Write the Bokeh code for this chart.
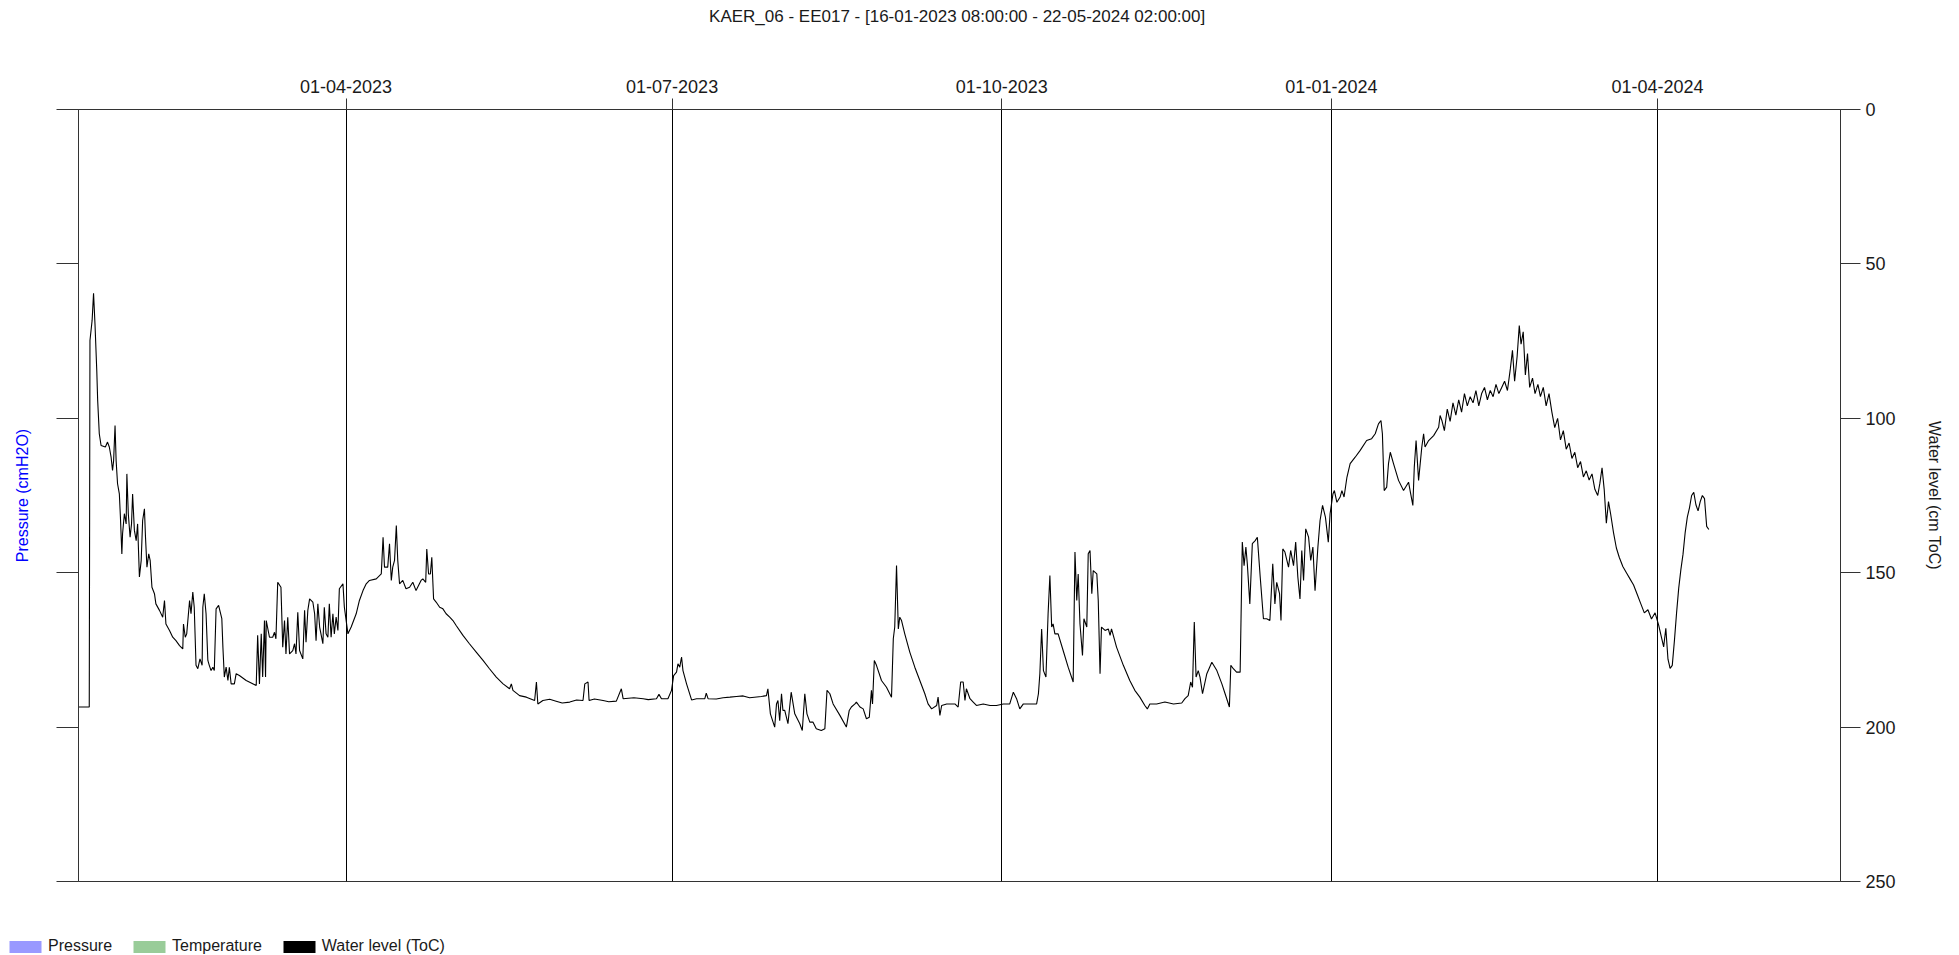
from datetime import datetime, timedelta
import pandas as pd
from bokeh.plotting import figure
from bokeh.layouts import column
from bokeh.models import (Range1d, LinearAxis, FixedTicker, DatetimeTickFormatter,
                          Legend, LegendItem, ColumnDataSource, CustomJSTickFormatter)
from bokeh.embed import file_html
from bokeh.resources import INLINE

# ---------------- data ----------------
title_text = "KAER_06 - EE017 -  [16-01-2023 08:00:00 - 22-05-2024 02:00:00]"
start_time = "2023-01-16 08:00:00"
end_time = "2024-05-22 02:00:00"
tick_labels = ["01-04-2023", "01-07-2023", "01-10-2023", "01-01-2024", "01-04-2024"]
y_ticks = [0, 50, 100, 150, 200, 250]
legend_labels = ["Pressure", "Temperature", "Water level (ToC)"]
legend_colors = ["#9999ff", "#99cc99", "#000000"]

# days elapsed since start_time
wl_days = [
    0.0, 3.0, 3.2, 3.8, 4.2, 4.6, 5.1, 5.35, 5.8, 6.3, 7.5, 8.1, 8.6, 9.1, 9.5, 9.8, 10.2, 10.5,
    10.9, 11.4, 11.7, 12.1, 12.3, 12.8, 13.3, 13.5, 13.9, 14.4, 14.8, 15.1, 15.6, 16.1, 16.5, 17.0,
    17.5, 17.9, 18.4, 18.7, 19.1, 19.6, 20.0, 20.5, 21.2, 21.6, 22.6, 23.5, 24.0, 24.4, 25.4, 26.3,
    27.2, 28.2, 29.1, 29.3, 29.8, 30.2, 31.0, 31.4, 31.9, 32.3, 32.8, 33.3, 33.9, 34.5, 34.7, 35.1,
    35.6, 36.1, 36.5, 37.0, 37.5, 37.9, 38.4, 39.1, 40.0, 40.3, 40.7, 41.2, 41.7, 42.1, 42.6, 43.5,
    44.0, 44.9, 46.8, 49.6, 50.0, 50.5, 51.0, 51.4, 51.9, 52.2, 52.4, 53.3, 54.2, 54.7, 55.1, 55.6,
    56.5, 57.0, 57.5, 57.9, 58.4, 58.9, 59.8, 60.3, 60.7, 61.2, 61.7, 62.6, 63.1, 63.5, 64.0, 64.5,
    65.4, 65.9, 66.3, 66.8, 67.3, 68.2, 68.6, 69.1, 69.6, 70.0, 70.5, 71.0, 71.4, 71.9, 72.4, 72.8,
    73.8, 74.2, 75.2, 76.1, 77.5, 78.4, 79.4, 80.3, 81.2, 83.1, 84.5, 85.0, 85.4, 86.3, 86.8, 87.3,
    87.7, 88.2, 88.7, 89.1, 89.6, 90.5, 91.4, 92.4, 93.3, 94.2, 95.6,
    96.1, 96.9, 97.2, 97.7, 98.2, 98.6, 99.1, 99.8, 100.8, 101.7, 102.6, 103.6, 104.5, 105.4,
    107.3, 109.1, 111.0, 112.9, 114.7, 116.6, 118.5, 120.3, 120.8, 121.25, 123.1, 125.0, 127.3,
    127.8, 128.2, 129.6, 131.5, 133.3, 135.0, 137.1, 139.0, 140.8, 141.3, 142.2, 142.5, 144.0,
    146.4, 148.0, 150.1, 151.5, 152.0, 155.0, 157.6, 159.0, 161.3, 162.0, 162.7, 164.5, 165.5,
    166.1, 166.9, 167.3, 167.8, 168.3, 168.7, 169.7, 171.1, 172.5, 174.8, 175.2, 175.7, 178.0,
    179.9, 181.8, 183.6, 185.5, 187.3, 190.6,
    192.0, 192.4, 193.1, 194.3, 194.8, 195.2, 195.7, 196.2, 196.6, 197.1, 198.0, 198.9, 199.9,
    201.3, 202.0, 202.7, 203.3, 204.1, 205.0, 205.9, 207.3, 208.3, 208.9, 209.7, 210.6, 212.5,
    214.3, 215.1, 215.7, 216.7, 217.1, 218.1, 219.0, 219.9, 220.7, 221.3, 221.6, 222.1, 222.7,
    224.1, 225.5, 226.9, 227.4, 227.8, 228.3, 228.8, 229.2, 229.7, 230.6, 232.0, 233.4, 234.8,
    236.2, 237.1, 238.1, 239.5, 239.9, 240.4, 240.9, 242.3, 244.6, 245.5, 246.2, 246.9, 247.4,
    247.8, 248.8, 249.7, 250.6, 252.5, 254.4, 256.2, 258.1, 259.9, 260.9, 261.8, 262.7, 263.7,
    267.4, 267.9, 268.3, 268.8, 269.3, 270.0, 270.6, 271.1, 271.6, 272.0, 272.5, 273.4, 274.8,
    276.2, 277.6, 278.1, 278.6, 279.0, 279.5, 280.2, 280.6, 281.4, 281.8, 282.3, 282.8, 283.2,
    284.2, 284.6, 285.1,
    285.5, 286.5, 287.4, 287.9, 288.3, 289.7, 291.6, 293.4, 294.8, 296.2, 297.6, 298.3, 299.0,
    300.9, 303.2, 305.6, 307.9, 308.8, 309.7, 310.4, 310.9, 311.4, 311.9, 312.5, 313.0, 313.7,
    314.9, 316.3, 317.7, 319.1, 320.0, 321.2, 321.6, 322.3, 323.2, 324.2, 324.8, 325.3, 325.8,
    326.2, 326.9, 327.6, 328.4, 329.0, 329.8, 330.7, 331.6, 332.5, 333.3, 333.9, 334.4, 335.2,
    335.6, 336.1, 336.7, 337.7, 338.3, 339.1, 339.7, 340.3, 340.9, 341.4, 341.9, 342.5, 343.3,
    343.9, 344.5, 345.1, 345.9, 346.5, 347.2, 348.0, 348.8, 349.3, 350.1, 350.5, 351.2, 352.1,
    352.6, 353.2, 354.0, 354.9, 356.3, 357.7, 359.5, 360.9, 361.9, 362.8, 363.5, 363.9, 364.4,
    365.1, 365.6, 366.1, 367.0, 368.4, 369.8, 371.2, 371.8, 372.4, 372.8, 373.3, 374.0, 374.9,
    375.4, 375.8, 376.8, 378.2, 379.6, 380.0, 380.5,
    381.2, 382.0, 382.8, 383.6, 384.4, 385.2, 386.0, 386.8, 387.6, 388.4, 389.2, 390.0, 390.8,
    391.6, 392.4, 393.2, 394.0, 394.8, 395.6, 396.4, 397.2, 398.0, 398.8, 399.6, 400.2, 400.8,
    401.5, 402.1, 402.6, 403.2, 403.8, 404.4, 405.0, 405.8, 406.5, 407.3, 408.0, 408.8, 409.6,
    410.4, 411.2, 412.0, 412.8, 413.6, 414.4, 415.2, 416.0, 416.8, 417.6, 418.4, 419.2, 420.0,
    420.8, 421.6, 422.4, 423.2, 424.0, 424.6, 425.2, 425.8, 426.4, 427.0, 427.6, 428.4, 429.2,
    430.0, 431.0, 432.0, 433.0, 434.0, 435.0, 436.0, 437.0, 438.0, 439.0, 440.0, 441.0, 441.8,
    442.4, 443.0, 443.6, 444.2, 444.8, 445.4, 446.0, 446.6, 447.2, 447.8, 448.4, 449.0, 449.6,
    450.2, 450.8, 451.4, 452.0, 452.6, 453.2, 453.8, 454.4, 455.0,
]

# water level in cm below top of casing
wl_cm = [
    193.5, 193.5, 74.8, 68.3, 59.5, 69.4, 84.5, 94.2, 105.0, 108.8, 109.3, 107.7, 109.3, 112.6, 116.9, 113.7, 102.3, 113.7,
    121.2, 124.5, 132.0, 143.9, 137.4, 130.9, 134.2, 118.0, 130.9, 138.5, 134.2, 124.5, 136.3, 139.6, 134.2, 151.4,
    146.0, 133.1, 129.3, 138.5, 148.2, 143.9, 146.0, 154.7, 156.8, 160.1, 162.2, 164.4, 159.0, 166.6, 168.7, 170.9,
    172.0, 173.6, 174.7, 166.6, 170.9, 169.8, 159.0, 163.3, 156.3, 161.2, 180.0, 181.1, 177.9, 180.0, 161.2, 156.8,
    163.3, 178.4, 180.0, 181.7, 180.6, 181.7, 161.7, 160.6, 164.9, 174.1, 183.8, 180.6, 184.9, 180.6, 186.0, 186.0,
    182.7, 183.3, 184.9, 186.5, 170.3, 186.0, 169.8, 183.8, 165.5, 183.8, 165.5, 170.9, 170.9, 169.3, 171.4, 153.1,
    154.7, 174.1, 165.5, 176.3, 164.4, 176.3, 175.2, 173.0, 176.3, 162.8, 175.2, 177.9, 162.2, 172.5, 162.2, 158.5,
    159.5, 163.3, 172.0, 160.1, 167.6, 173.0, 161.2, 169.8, 170.9, 160.1, 170.9, 163.3, 169.8, 164.4, 168.7, 155.2,
    153.6, 161.2, 169.8, 167.6, 163.3, 159.0, 155.8, 153.6, 152.5, 152.0, 150.4, 138.5, 148.2, 148.2, 140.6, 152.5,
    148.2, 146.0, 134.7, 146.0, 153.6, 152.5, 155.2, 154.7, 153.1, 155.8, 152.5,
    152.0, 153.1, 142.3, 150.4, 150.4, 145.0, 158.5, 159.5, 161.2, 161.7, 163.3, 164.4, 165.5, 167.1,
    170.3, 173.0, 175.7, 178.4, 181.1, 183.8, 186.0, 187.6, 186.0, 188.1, 189.8, 190.3, 191.4,
    185.4, 192.5, 191.4, 191.0, 191.6, 192.2, 191.9, 191.2, 191.4, 186.0, 185.4, 191.4, 190.9,
    191.4, 191.8, 191.6, 187.6, 190.8, 190.5, 190.8, 191.1, 190.8, 189.4, 190.8, 190.8, 188.1,
    183.3, 182.2, 179.5, 180.6, 177.3, 181.7, 186.0, 191.2, 190.8, 190.8, 189.0, 190.8, 190.9,
    190.5, 190.3, 190.1, 189.9, 190.5, 190.1,
    189.8, 187.6, 195.7, 200.0, 192.5, 191.4, 197.9, 189.2, 194.6, 194.6, 198.9, 188.7, 195.7,
    198.9, 201.1, 189.2, 195.7, 198.4, 198.4, 200.5, 201.1, 200.5, 188.1, 189.2, 192.5, 196.2,
    200.0, 194.6, 193.5, 192.5, 191.9, 193.5, 194.1, 197.3, 196.8, 188.1, 192.5, 178.4, 180.0,
    184.9, 187.1, 190.3, 171.4, 167.6, 147.7, 168.2, 164.4, 165.5, 169.8, 175.7, 180.6, 184.9,
    189.2, 192.5, 194.1, 193.0, 190.3, 196.2, 193.0, 192.5, 192.5, 193.5, 185.4, 185.4, 191.4,
    187.6, 190.8, 191.9, 193.0, 192.5, 193.0, 193.0, 192.5, 192.5, 188.7, 190.8, 194.1, 192.5,
    192.5, 189.2, 182.7, 168.2, 181.7, 183.8, 163.3, 150.9, 167.6, 166.6, 169.8, 169.8, 175.2,
    180.6, 185.4, 143.3, 159.0, 150.4, 166.6, 176.8, 164.9, 167.6, 143.9, 142.8, 156.8, 149.3,
    150.4, 159.0, 182.7,
    167.6, 168.7, 168.2, 170.3, 168.2, 174.1, 180.0, 184.9, 188.1, 190.3, 193.0, 194.1, 192.5,
    192.5, 191.9, 192.5, 192.2, 190.8, 189.8, 185.4, 187.1, 166.0, 183.8, 181.7, 183.8, 189.2,
    182.7, 179.0, 181.7, 186.0, 189.2, 193.5, 180.0, 181.1, 182.2, 182.2, 140.1, 147.7, 141.7,
    147.1, 160.1, 140.6, 139.6, 138.5, 151.4, 164.9, 164.9, 165.5, 147.1, 160.1, 153.1, 156.8,
    165.5, 142.3, 143.3, 148.2, 142.8, 147.7, 140.1, 151.4, 158.5, 142.8, 152.5, 135.8, 138.5,
    146.0, 141.7, 155.8, 141.7, 133.1, 128.2, 132.0, 140.1, 130.9, 124.5, 123.4, 127.2, 125.5,
    123.4, 125.5, 119.1, 114.7, 112.6, 110.4, 107.2, 106.6, 105.0, 101.8, 100.7, 105.0, 123.4,
    122.3, 114.7, 111.0, 114.7, 120.1, 123.4, 120.7, 124.5, 128.2, 115.8, 107.2, 120.1, 109.3,
    105.0, 109.3, 107.2, 105.6, 102.9, 99.1, 100.7,
    104.0, 97.0, 101.0, 95.0, 99.0, 94.0, 98.0, 92.0, 96.0, 93.0, 95.0, 91.0, 96.0,
    92.0, 90.0, 94.0, 91.0, 93.0, 89.0, 92.0, 90.0, 88.0, 91.0, 84.0, 78.0, 88.0,
    80.0, 70.0, 76.0, 72.0, 86.0, 79.0, 90.0, 87.0, 92.0, 89.0, 93.0, 90.0, 96.0,
    92.0, 98.0, 103.0, 100.0, 107.0, 104.0, 110.0, 108.0, 113.0, 111.0, 116.0, 114.0, 119.0,
    117.0, 120.0, 118.0, 123.0, 125.0, 121.0, 116.0, 123.0, 134.0, 127.0, 131.0, 137.0, 142.0,
    145.0, 148.0, 150.0, 152.0, 154.0, 157.0, 160.0, 163.0, 162.0, 165.0, 163.0, 167.0, 171.0,
    174.0, 168.0, 178.0, 181.0, 180.0, 172.0, 163.0, 155.0, 149.0, 144.0, 137.0, 132.0, 129.0,
    125.0, 124.0, 128.0, 130.0, 127.0, 125.0, 126.0, 135.0, 136.0,
]

# ---------------- build ----------------
t0 = pd.Timestamp(start_time)
t1 = pd.Timestamp(end_time)
wl_time = [t0 + pd.Timedelta(days=d) for d in wl_days]
tick_times = pd.to_datetime(tick_labels, format="%d-%m-%Y")
epoch = pd.Timestamp("1970-01-01")
tick_ms = [(t - epoch).total_seconds() * 1000.0 for t in tick_times]

FONT = "Liberation Sans"
W = 1957
H_MAIN = 927
H_LEG = 28

p = figure(width=W, height=H_MAIN, x_axis_type="datetime", x_axis_location="above",
           x_range=Range1d(t0, t1), y_range=Range1d(250, 0),
           output_backend="svg", toolbar_location=None,
           min_border_left=78, min_border_right=W - 1840, min_border_top=109,
           min_border_bottom=H_MAIN - 881)
p.frame_align = False

p.background_fill_color = "white"
p.border_fill_color = "white"
p.outline_line_color = "#333333"
p.outline_line_width = 1
p.title.text = ""

# top datetime axis
xa = p.xaxis[0]
xa.ticker = FixedTicker(ticks=tick_ms)
fmt = "%d-%m-%Y"
xa.formatter = DatetimeTickFormatter(microseconds=fmt, milliseconds=fmt, seconds=fmt, minsec=fmt,
                                     minutes=fmt, hourmin=fmt, hours=fmt, days=fmt, months=fmt, years=fmt)
xa.major_tick_out = 11
xa.major_tick_in = 0
xa.minor_tick_out = 0
xa.minor_tick_in = 0
xa.axis_line_color = "#333333"
xa.major_tick_line_color = "#333333"
xa.major_label_text_font = FONT
xa.major_label_text_font_size = "18px"
xa.major_label_text_color = "#1a1a1a"
xa.major_label_standoff = 6

# chart title drawn as the label of a bare axis stacked above the date axis
ta = LinearAxis(ticker=FixedTicker(ticks=[]), formatter=CustomJSTickFormatter(code="return ''"))
ta.axis_line_color = None
ta.major_tick_line_color = None
ta.minor_tick_line_color = None
ta.major_tick_out = 0
ta.major_tick_in = 0
ta.minor_tick_out = 0
ta.minor_tick_in = 0
ta.major_label_standoff = 0
ta.axis_label = title_text
ta.axis_label_text_font = FONT
ta.axis_label_text_font_size = "17px"
ta.axis_label_text_font_style = "normal"
ta.axis_label_text_color = "#1a1a1a"
ta.axis_label_standoff = 51
p.add_layout(ta, "above")

p.xgrid.ticker = FixedTicker(ticks=tick_ms)
p.xgrid.grid_line_color = "black"
p.xgrid.grid_line_alpha = 1.0
p.ygrid.visible = False

# left (pressure) axis, unlabeled ticks
ya = p.yaxis[0]
ya.ticker = FixedTicker(ticks=y_ticks)
ya.formatter = CustomJSTickFormatter(code="return ''")
ya.major_tick_out = 22
ya.major_tick_in = 0
ya.minor_tick_out = 0
ya.minor_tick_in = 0
ya.major_label_standoff = 0
ya.axis_line_color = "#333333"
ya.major_tick_line_color = "#333333"
ya.axis_label = "Pressure (cmH2O)"
ya.axis_label_text_font = FONT
ya.axis_label_text_font_size = "16px"
ya.axis_label_text_font_style = "normal"
ya.axis_label_text_color = "#0000ff"
ya.axis_label_standoff = 26

# right (water level) axis
ra = LinearAxis(ticker=FixedTicker(ticks=y_ticks))
ra.major_tick_out = 20
ra.major_tick_in = 0
ra.minor_tick_out = 0
ra.minor_tick_in = 0
ra.major_label_standoff = 5
ra.axis_line_color = "#333333"
ra.major_tick_line_color = "#333333"
ra.major_label_text_font = FONT
ra.major_label_text_font_size = "18px"
ra.major_label_text_color = "#1a1a1a"
ra.axis_label = "Water level (cm ToC)"
ra.axis_label_text_font = FONT
ra.axis_label_text_font_size = "16px"
ra.axis_label_text_font_style = "normal"
ra.axis_label_text_color = "#1a1a1a"
ra.axis_label_standoff = 27
p.add_layout(ra, "right")

# data line
src = ColumnDataSource(dict(t=wl_time, wl=wl_cm))
p.line("t", "wl", source=src, line_color="black", line_width=1.1)

# legend strip below the chart (swatches only; placeholder glyphs hold no drawable data)
lg = figure(width=W, height=H_LEG, x_range=Range1d(0, 1), y_range=Range1d(0, 1),
            x_axis_location=None, y_axis_location=None,
            output_backend="svg", toolbar_location=None, min_border=0)
lg.frame_align = False
lg.outline_line_color = None
lg.grid.visible = False
lg.background_fill_color = "white"
lg.border_fill_color = "white"
nan = float("nan")
placeholder = ColumnDataSource(dict(left=[nan], right=[nan], top=[nan], bottom=[nan]))
items = []
for lab, col in zip(legend_labels, legend_colors):
    r = lg.quad(left="left", right="right", top="top", bottom="bottom", source=placeholder,
                fill_color=col, line_color=None)
    items.append(LegendItem(label=lab, renderers=[r]))

legend = Legend(items=items, location=(5, 0), orientation="horizontal",
                glyph_width=40, glyph_height=15, label_standoff=3, spacing=17,
                padding=0, margin=0, border_line_color=None, background_fill_alpha=0,
                label_text_font=FONT, label_text_font_size="16px", label_text_color="#1a1a1a",
                label_height=17)
lg.add_layout(legend)

layout = column(p, lg, spacing=0)
open("out.html", "w").write(file_html(layout, INLINE))
